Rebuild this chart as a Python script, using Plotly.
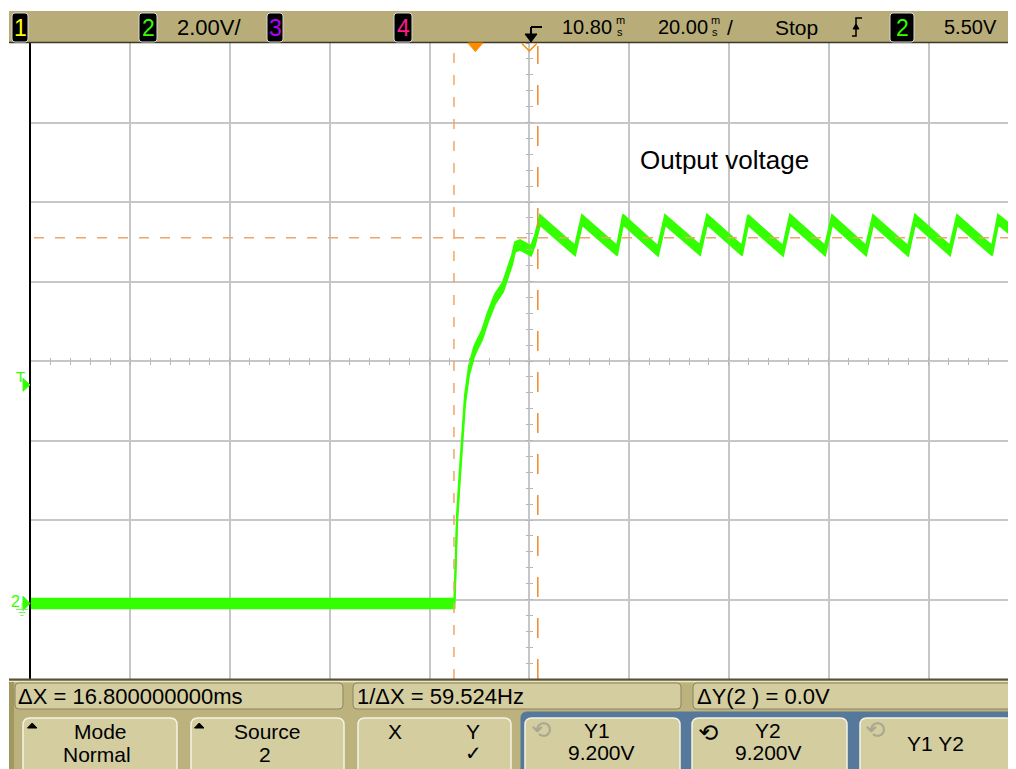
import plotly.graph_objects as go

# The page body keeps an 8 px margin, so the figure is drawn 8 px in from the window corner.
OFF = 8
FW, FH = 1016 - OFF, 769 - OFF

# ---------------- data (time in ms, voltage in V) ----------------
base_t = [-89.2, -4.2]
base_v = [0.0, 0.0]

rise_t = [-3.99, -3.69, -3.19, -2.69, -2.09, -1.28, -0.28, 0.52, 1.32, 2.52,
          3.93, 5.53, 6.53, 7.33, 7.94, 8.94, 10.14, 11.14, 11.94, 12.94]
rise_v = [0.84, 2.10, 3.11, 4.11, 5.12, 5.87, 6.33, 6.55, 6.75, 7.21,
          7.66, 7.96, 8.31, 8.64, 8.97, 9.02, 8.94, 8.87, 9.14, 9.65]

ripple_t = [19.96, 21.36, 28.38, 29.58, 36.59, 38.00, 45.01, 46.42, 53.43, 54.63,
            61.64, 63.05, 70.06, 71.47, 78.28, 79.69, 86.70, 88.10, 95.11, 96.52,
            103.53, 104.74, 108.4]
ripple_v = [8.88, 9.65, 8.88, 9.66, 8.87, 9.65, 8.89, 9.66, 8.88, 9.65,
            8.87, 9.66, 8.88, 9.65, 8.88, 9.65, 8.87, 9.66, 8.88, 9.65,
            8.88, 9.66, 9.28]

noise_half = 0.12          # half thickness of the noisy trace band (V)

cursor_x1 = -4.3           # ms
cursor_x2 = 12.5           # ms  (delta X = 16.8 ms)
cursor_y = 9.2             # V (Y1 = Y2)
trigger_level = 5.5        # V
trigger_time = 0.0         # ms
delay = 10.8               # ms at screen center
time_div = 20.0            # ms/div
volt_div = 2.0             # V/div
screen_center_v = 6.1      # V at screen center

XMIN, XMAX = -89.16, 108.33
YMIN, YMAX = screen_center_v - 4 * volt_div, screen_center_v + 4 * volt_div

top_labels = {"ch2": "2.00V/", "delay": "10.80", "tb": "20.00", "run": "Stop", "trig": "5.50V"}
meas_labels = ["ΔX = 16.800000000ms", "1/ΔX = 59.524Hz", "ΔY(2 ) = 0.0V"]

GREEN = "#33ff00"
ORANGE = "#ff8a00"
TAN = "#b8ad78"
PANEL = "#bcb27d"
BTN = "#d3cda0"
SANS = "Liberation Sans, Arial, sans-serif"

t_all = base_t + rise_t + ripple_t
v_all = base_v + rise_v + ripple_v
v_lo = [v - noise_half for v in v_all]
v_hi = [v + noise_half for v in v_all]


def X(px):
    return (px - OFF) / FW


def Y(py):
    return 1 - (py - OFF) / FH


fig = go.Figure()
fig.add_trace(go.Scatter(x=t_all, y=v_lo, mode="lines", line=dict(color=GREEN, width=2),
                         hoverinfo="skip"))
fig.add_trace(go.Scatter(x=t_all, y=v_hi, mode="lines", line=dict(color=GREEN, width=2),
                         fill="tonexty", fillcolor=GREEN, hoverinfo="skip"))
# carriers for the graticule tick axes
for xa, ya in [("x2", "y"), ("x3", "y"), ("x", "y2"), ("x", "y3")]:
    fig.add_trace(go.Scatter(x=[None], y=[None], xaxis=xa, yaxis=ya, showlegend=False))

xdom = [X(30.5), 1.0]
ydom = [Y(679), Y(43)]
cx_paper = xdom[0] + (delay - XMIN) / (XMAX - XMIN) * (xdom[1] - xdom[0])
cy_paper = ydom[0] + (screen_center_v - YMIN) / (YMAX - YMIN) * (ydom[1] - ydom[0])

grid = dict(showgrid=True, gridcolor="#c6c6c6", gridwidth=1.5, showticklabels=False,
            ticks="", zeroline=False, fixedrange=True)
tickax = dict(showgrid=False, showticklabels=False, zeroline=False, showline=False,
              tickcolor="#b4b4b4", tickwidth=1, ticklen=3, fixedrange=True, tickmode="linear",
              anchor="free")

fig.update_layout(
    width=FW, height=FH,
    margin=dict(l=0, r=0, t=0, b=0, autoexpand=False),
    paper_bgcolor="white", plot_bgcolor="white", showlegend=False,
    xaxis=dict(domain=xdom, range=[XMIN, XMAX], tickmode="linear", tick0=delay, dtick=time_div,
               showline=False, **grid),
    yaxis=dict(domain=ydom, range=[YMIN, YMAX], tickmode="linear", tick0=screen_center_v,
               dtick=volt_div, showline=True, linecolor="black", linewidth=2, **grid),
    xaxis2=dict(overlaying="x", range=[XMIN, XMAX], tick0=delay, dtick=time_div / 5,
                ticks="outside", position=cy_paper, **tickax),
    xaxis3=dict(overlaying="x", range=[XMIN, XMAX], tick0=delay, dtick=time_div / 5,
                ticks="inside", position=cy_paper, **tickax),
    yaxis2=dict(overlaying="y", range=[YMIN, YMAX], tick0=screen_center_v, dtick=volt_div / 5,
                ticks="outside", position=cx_paper, **tickax),
    yaxis3=dict(overlaying="y", range=[YMIN, YMAX], tick0=screen_center_v, dtick=volt_div / 5,
                ticks="inside", position=cx_paper, **tickax),
)

shapes = []
annots = []


def rect(x0, y0, x1, y1, fill, line=None, lw=0):
    shapes.append(dict(type="rect", xref="paper", yref="paper", x0=X(x0), x1=X(x1), y0=Y(y1), y1=Y(y0),
                       fillcolor=fill, line=dict(color=line or fill, width=lw), layer="above"))


def rr(x0, y0, x1, y1, r, fill, line, lw=1):
    p = (f"M {X(x0 + r)},{Y(y0)} L {X(x1 - r)},{Y(y0)} Q {X(x1)},{Y(y0)} {X(x1)},{Y(y0 + r)} "
         f"L {X(x1)},{Y(y1 - r)} Q {X(x1)},{Y(y1)} {X(x1 - r)},{Y(y1)} L {X(x0 + r)},{Y(y1)} "
         f"Q {X(x0)},{Y(y1)} {X(x0)},{Y(y1 - r)} L {X(x0)},{Y(y0 + r)} Q {X(x0)},{Y(y0)} {X(x0 + r)},{Y(y0)} Z")
    shapes.append(dict(type="path", xref="paper", yref="paper", path=p, fillcolor=fill,
                       line=dict(color=line, width=lw), layer="above"))


def poly(pts, fill=None, line=None, lw=1, closed=True):
    p = "M " + " L ".join(f"{X(a)},{Y(b)}" for a, b in pts) + (" Z" if closed else "")
    shapes.append(dict(type="path", xref="paper", yref="paper", path=p,
                       fillcolor=fill if fill else "rgba(0,0,0,0)",
                       line=dict(color=line if line else "rgba(0,0,0,0)", width=lw), layer="above"))


def hline(x0, x1, y, color, lw):
    shapes.append(dict(type="line", xref="paper", yref="paper", x0=X(x0), x1=X(x1), y0=Y(y), y1=Y(y),
                       line=dict(color=color, width=lw), layer="above"))


def text(x, y, s, size, color="black", family=SANS, xanchor="left"):
    annots.append(dict(xref="paper", yref="paper", x=X(x), y=Y(y), text=s, showarrow=False,
                       xanchor=xanchor, yanchor="middle", borderpad=0,
                       font=dict(size=size, color=color, family=family)))


# ---------- cursors ----------
shapes.append(dict(type="line", xref="paper", yref="y", x0=X(34), x1=1, y0=cursor_y, y1=cursor_y,
                   line=dict(color="#eea56c", width=1.5, dash="10px,11px"), layer="above"))
shapes.append(dict(type="line", xref="x", yref="paper", x0=cursor_x1, x1=cursor_x1, y0=Y(679), y1=Y(46),
                   line=dict(color="#f4a664", width=1.5, dash="10px,12px"), layer="above"))
shapes.append(dict(type="line", xref="x", yref="paper", x0=cursor_x2, x1=cursor_x2, y0=Y(679), y1=Y(46),
                   line=dict(color="#f08a2a", width=1.5, dash="20px,21px"), layer="above"))

# ---------- top status bar ----------
rect(9, 11, 1016, 42, TAN)
hline(9, 1016, 42.6, "#3a382a", 1.5)
for x0, x1, lab, col in [(12, 28, "1", "#ffff00"), (139, 157, "2", GREEN), (267, 283, "3", "#b400ff"),
                         (394, 412, "4", "#ff1a8c"), (890, 914, "2", GREEN)]:
    rr(x0, 13, x1, 42, 3, "black", "#d8d8d8", 1)
    text((x0 + x1) / 2, 28, lab, 23, col, xanchor="center")
text(209, 27, top_labels["ch2"], 22, xanchor="center")
text(587, 27, top_labels["delay"], 20, xanchor="center")
text(620, 20, "m", 11, xanchor="center")
text(620, 32, "s", 11, xanchor="center")
text(683, 27, top_labels["tb"], 20, xanchor="center")
text(715, 20, "m", 11, xanchor="center")
text(715, 32, "s", 11, xanchor="center")
text(730, 27, "/", 21, xanchor="center")
text(796, 27, top_labels["run"], 21, xanchor="center")
text(970, 27, top_labels["trig"], 20, xanchor="center")
# delay reference arrow
poly([(531, 27), (542, 27)], line="black", lw=2, closed=False)
poly([(531, 27), (531, 35)], line="black", lw=2, closed=False)
poly([(525, 34), (537, 34), (531, 42)], fill="black", line="black", lw=1)
# trigger edge symbol
poly([(852, 36), (856, 36), (856, 18), (862, 18)], line="black", lw=1.5, closed=False)
poly([(853, 29), (859, 29), (856, 24)], fill="black", line="black", lw=1)

# markers under top bar
shapes.append(dict(type="path", xref="x", yref="paper",
                   path=f"M {trigger_time - 1.5},{Y(43)} L {trigger_time + 1.5},{Y(43)} L {trigger_time},{Y(51.5)} Z",
                   fillcolor=ORANGE, line=dict(color=ORANGE, width=1), layer="above"))
shapes.append(dict(type="path", xref="x", yref="paper",
                   path=f"M {delay - 1.5},{Y(43.5)} L {delay},{Y(51)} L {delay + 1.5},{Y(43.5)}",
                   line=dict(color=ORANGE, width=1.5), layer="above"))

# left side markers (trigger level & ground)
annots.append(dict(xref="paper", yref="y", x=X(20), y=trigger_level + 0.22, text="T", showarrow=False,
                   xanchor="center", yanchor="middle", font=dict(size=15, color=GREEN, family=SANS)))
shapes.append(dict(type="path", xref="paper", yref="y",
                   path=f"M {X(23)},{trigger_level + 0.16} L {X(30)},{trigger_level} L {X(23)},{trigger_level - 0.16} Z",
                   fillcolor=GREEN, line=dict(color=GREEN, width=1), layer="above"))
annots.append(dict(xref="paper", yref="y", x=X(15), y=0.05, text="2", showarrow=False,
                   xanchor="center", yanchor="middle", font=dict(size=16, color=GREEN, family=SANS)))
shapes.append(dict(type="path", xref="paper", yref="y",
                   path=f"M {X(23)},{0.18} L {X(30)},{0.0} L {X(23)},{-0.18} Z",
                   fillcolor=GREEN, line=dict(color=GREEN, width=1), layer="above"))
for (a, b, yy) in [(16, 28, 609.5), (18.5, 25.5, 612.5), (20.5, 23.5, 615.5)]:
    hline(a, b, yy, "#7cf45a", 1)
poly([(22, 603), (22, 609)], line="#7cf45a", lw=1, closed=False)

# ---------- bottom panel ----------
rect(9, 680, 1016, 769, PANEL)
hline(9, 1016, 679.6, "#55513a", 2)
hline(9, 1016, 681.6, "#ece8cc", 1.2)
rect(9, 682, 14, 769, "#a1985f")
rr(15, 683, 343, 709, 4, BTN, "#8c8560", 1)
rr(353, 683, 681, 709, 4, BTN, "#8c8560", 1)
rr(693, 683, 1022, 709, 4, BTN, "#8c8560", 1)
text(17, 696, meas_labels[0], 22)
text(356, 696, meas_labels[1], 22)
text(696, 696, meas_labels[2], 22)

rr(521, 712, 1030, 790, 6, "#56789a", "#56789a", 1)
for x0, x1 in [(23, 177), (191, 344), (358, 511), (525, 680), (692, 847), (860, 1013)]:
    rr(x0, 718, x1, 785, 7, BTN, "#f5f3e6", 1.5)

poly([(27.5, 728), (37, 728), (32.2, 723)], fill="black", line="black", lw=1)
poly([(194.5, 728), (204, 728), (199.2, 723)], fill="black", line="black", lw=1)
text(100, 731, "Mode", 21, xanchor="center")
text(97, 754, "Normal", 21, xanchor="center")
text(267, 731, "Source", 21, xanchor="center")
text(265, 754, "2", 21, xanchor="center")
text(395, 731, "X", 21, xanchor="center")
text(473, 731, "Y", 21, xanchor="center")
text(473, 753, "✓", 20, family="DejaVu Sans", xanchor="center")
text(541, 730, "⟲", 24, "#aaa690", family="DejaVu Sans", xanchor="center")
text(597, 730, "Y1", 21, xanchor="center")
text(601, 752, "9.200V", 21, xanchor="center")
text(708, 733, "⟲", 24, "black", family="DejaVu Sans", xanchor="center")
text(768, 730, "Y2", 21, xanchor="center")
text(768, 752, "9.200V", 21, xanchor="center")
text(875, 730, "⟲", 24, "#aaa690", family="DejaVu Sans", xanchor="center")
text(935, 743, "Y1 Y2", 21, xanchor="center")

# in-graph label
text(639, 160, "Output voltage", 26)

fig.update_layout(shapes=shapes, annotations=annots)
fig.write_html("out.html")
